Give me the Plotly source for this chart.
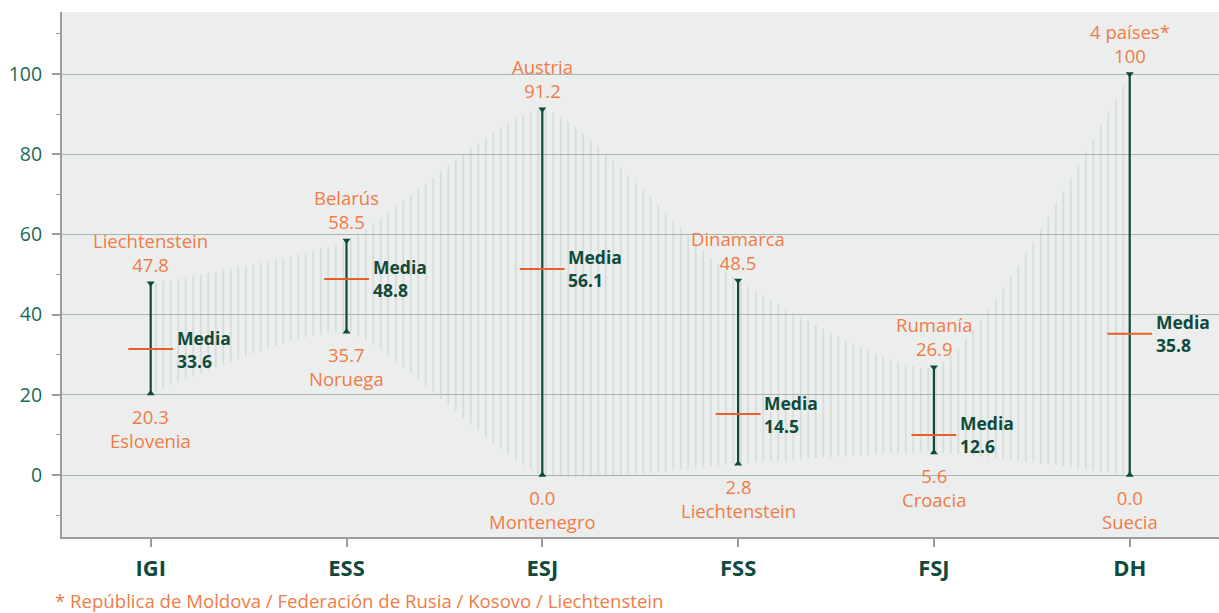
import plotly.graph_objects as go

categories = ["IGI", "ESS", "ESJ", "FSS", "FSJ", "DH"]
max_vals = [47.8, 58.5, 91.2, 48.5, 26.9, 100]
min_vals = [20.3, 35.7, 0.0, 2.8, 5.6, 0.0]
mean_vals = [33.6, 48.8, 56.1, 14.5, 12.6, 35.8]
mean_marker = [31.4, 48.9, 51.4, 15.2, 10.0, 35.2]
max_countries = ["Liechtenstein", "Belarús", "Austria", "Dinamarca", "Rumanía", "4 países*"]
min_countries = ["Eslovenia", "Noruega", "Montenegro", "Liechtenstein", "Croacia", "Suecia"]
footnote = "* República de Moldova / Federación de Rusia / Kosovo / Liechtenstein"

GREEN = "#0f4a3a"
TICKGREEN = "#1b6a56"
ORANGE = "#f07b47"
MEANORANGE = "#ea5f25"
FONT = "Open Sans"

x = list(range(len(categories)))
fig = go.Figure()

# hatched band (min to max)
fig.add_trace(go.Scatter(x=x, y=min_vals, mode="lines",
                         line=dict(width=0, shape="spline", smoothing=0.55),
                         hoverinfo="skip", showlegend=False))
fig.add_trace(go.Scatter(x=x, y=max_vals, mode="lines",
                         line=dict(width=0, shape="spline", smoothing=0.55),
                         fill="tonexty", fillcolor="rgba(0,0,0,0)",
                         fillpattern=dict(shape="|", size=7.5, solidity=0.17,
                                          fgcolor="#adbdb6", bgcolor="rgba(0,0,0,0)"),
                         hoverinfo="skip", showlegend=False))

# vertical range lines
lx, ly = [], []
for i in x:
    lx += [i, i, None]
    ly += [min_vals[i], max_vals[i], None]
fig.add_trace(go.Scatter(x=lx, y=ly, mode="lines", line=dict(color=GREEN, width=2.2),
                         hoverinfo="skip", showlegend=False))
fig.add_trace(go.Scatter(x=x, y=max_vals, mode="markers",
                         marker=dict(symbol="triangle-down", size=7, color=GREEN),
                         hoverinfo="skip", showlegend=False))
fig.add_trace(go.Scatter(x=x, y=min_vals, mode="markers",
                         marker=dict(symbol="triangle-up", size=7, color=GREEN),
                         hoverinfo="skip", showlegend=False))
# mean markers
fig.add_trace(go.Scatter(x=x, y=mean_marker, mode="markers",
                         marker=dict(symbol="line-ew", size=32,
                                     line=dict(color=MEANORANGE, width=2)),
                         hoverinfo="skip", showlegend=False))

for i in x:
    vtxt = f"{max_vals[i]:g}" if max_vals[i] == 100 else f"{max_vals[i]:.1f}"
    fig.add_annotation(x=i, y=max_vals[i], text=f"{max_countries[i]}<br>{vtxt}",
                       showarrow=False, xanchor="center", yanchor="bottom", yshift=4,
                       font=dict(family=FONT, size=18.5, color=ORANGE))
    fig.add_annotation(x=i, y=min_vals[i], text=f"{min_vals[i]:.1f}<br>{min_countries[i]}",
                       showarrow=False, xanchor="center", yanchor="top", yshift=-8,
                       font=dict(family=FONT, size=18.5, color=ORANGE))
    fig.add_annotation(x=i, y=mean_marker[i], text=f"<b>Media<br>{mean_vals[i]:.1f}</b>",
                       showarrow=False, xanchor="left", yanchor="middle", xshift=24,
                       align="left", font=dict(family=FONT, size=17.5, color=GREEN))

fig.add_annotation(x=-0.0078, y=-0.12, xref="paper", yref="paper", text=footnote,
                   showarrow=False, xanchor="left", yanchor="middle",
                   font=dict(family=FONT, size=18.6, color=ORANGE))

fig.update_layout(
    width=1219, height=613,
    margin=dict(l=62, r=0, t=12, b=76),
    paper_bgcolor="white", plot_bgcolor="#eceeed",
    showlegend=False,
    font=dict(family=FONT),
)
fig.update_xaxes(range=[-0.453, 5.456], tickvals=x, ticktext=[f"<b>{c}</b>" for c in categories],
                 showgrid=False, zeroline=False, showline=True, linecolor="#9a9d9c", linewidth=2,
                 ticks="outside", ticklen=8, tickwidth=2, tickcolor="#9a9d9c",
                 tickfont=dict(family=FONT, size=22, color=GREEN), ticklabelstandoff=3)
fig.update_yaxes(range=[-15.46, 115.46], tickvals=[0, 20, 40, 60, 80, 100],
                 showgrid=True, gridcolor="#aab3b0", gridwidth=1.2, zeroline=False,
                 showline=True, linecolor="#9a9d9c", linewidth=2,
                 ticks="outside", ticklen=8, tickwidth=2, tickcolor="#9a9d9c",
                 minor=dict(tickvals=[-10, 10, 30, 50, 70, 90, 110], ticks="outside", ticklen=4,
                            tickcolor="#9a9d9c", tickwidth=1, showgrid=False),
                 tickfont=dict(family=FONT, size=19.5, color=TICKGREEN), ticklabelstandoff=6)

fig.write_html("out.html", config={"displayModeBar": False},
               post_script="document.body.style.margin='0';")
